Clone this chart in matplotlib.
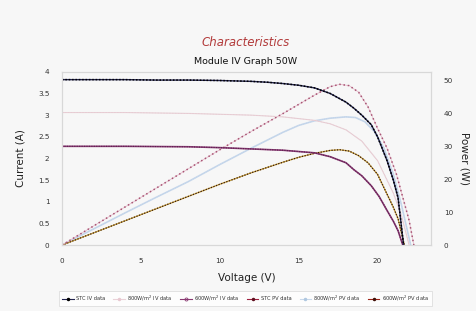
import matplotlib
matplotlib.use("Agg")
import matplotlib.pyplot as plt
from matplotlib.lines import Line2D

# ---- data ----
v_stc_iv = [0, 2, 4, 6, 8, 10, 12, 13, 14, 15, 16, 17, 18, 18.5, 19, 19.6, 20, 20.6, 21, 21.3, 21.65]
i_stc_iv = [3.82, 3.82, 3.82, 3.81, 3.81, 3.80, 3.78, 3.76, 3.73, 3.69, 3.63, 3.50, 3.30, 3.16, 3.00, 2.78, 2.50, 1.95, 1.50, 1.09, 0.0]

v_800_iv = [0, 4, 8, 12, 14, 16, 17, 18, 19, 20, 21, 21.5, 22.0]
i_800_iv = [3.06, 3.06, 3.04, 3.00, 2.96, 2.88, 2.80, 2.66, 2.40, 1.95, 1.20, 0.70, 0.0]

v_600_iv = [0, 4, 8, 10, 12, 14, 15, 16, 17, 18, 18.5, 19, 19.6, 20.1, 20.6, 21.0, 21.3, 21.6]
i_600_iv = [2.28, 2.28, 2.27, 2.25, 2.22, 2.19, 2.16, 2.13, 2.04, 1.90, 1.74, 1.60, 1.37, 1.12, 0.80, 0.55, 0.33, 0.0]

v_stc_pv = [0, 2, 4, 6, 8, 10, 12, 14, 15, 16, 17, 17.6, 18.2, 18.8, 19.4, 20, 20.6, 21.2, 21.6, 22.0, 22.3]
p_stc_pv = [0, 5.8, 11.6, 17.4, 23.2, 29.0, 34.6, 40.0, 42.8, 45.6, 48.2, 48.9, 48.5, 46.5, 42.0, 35.5, 29.5, 21.5, 14.5, 7.5, 0.0]

v_800_pv = [0, 2, 4, 6, 8, 10, 12, 14, 15, 16, 17, 18, 18.6, 19.2, 19.8, 20.4, 21.0, 21.5, 22.1]
p_800_pv = [0, 4.9, 9.8, 14.6, 19.3, 24.5, 29.5, 34.3, 36.4, 37.8, 38.6, 39.0, 38.8, 37.5, 34.5, 29.5, 21.5, 12.5, 0.0]

v_600_pv = [0, 2, 4, 6, 8, 10, 12, 14, 15, 16, 17, 17.6, 18.2, 18.8, 19.4, 20.0, 20.6, 21.0, 21.3, 21.7]
p_600_pv = [0, 3.7, 7.4, 11.1, 14.8, 18.5, 22.0, 25.2, 26.7, 27.9, 28.8, 29.0, 28.6, 27.2, 25.0, 21.5, 15.5, 11.5, 8.0, 0.0]

labels = ["STC IV data", "800W/m$^2$ IV data", "600W/m$^2$ IV data",
          "STC PV data", "800W/m$^2$ PV data", "600W/m$^2$ PV data"]

fig = plt.figure(figsize=(4.77, 3.11), dpi=100, facecolor="#f7f7f7")
ax = fig.add_axes([0.130, 0.212, 0.774, 0.557])
ax2 = ax.twinx()
ax.set_zorder(ax2.get_zorder() + 1)
ax.patch.set_visible(False)
ax2.patch.set_facecolor("white")

# colours
c_stc_iv = "#23244f"
c_800_iv = "#ead2d8"
c_600_iv = "#8a3a72"
c_stc_pv = "#c46a88"
c_800_pv = "#c9d9ec"
c_600_pv = "#6e2a18"

def draw(a, x, y, col, dotcol, lw=1.0, dls=(0, (1, 1.2)), dlw=1.0):
    a.plot(x, y, color=col, lw=lw, solid_capstyle="round")
    a.plot(x, y, color=dotcol, lw=dlw, linestyle=dls)

draw(ax2, v_800_pv, p_800_pv, c_800_pv, "#bdd0e8", lw=1.2, dlw=0.6)
draw(ax2, v_600_pv, p_600_pv, "#c9a23a", "#3a1a10", lw=0.9, dlw=0.9)
draw(ax2, v_stc_pv, p_stc_pv, "#e6bccb", "#a85474", lw=0.6, dls=(0, (1, 1.8)), dlw=1.1)

draw(ax, v_800_iv, i_800_iv, c_800_iv, "#e2c4cc", lw=0.8, dlw=0.5)
draw(ax, v_600_iv, i_600_iv, c_600_iv, "#5a1f50", lw=1.2, dlw=0.8)
draw(ax, v_stc_iv, i_stc_iv, c_stc_iv, "#000000", lw=1.0, dlw=1.1)

ax.set_xlim(0, 23.4)
ax.set_ylim(0, 4)
ax2.set_ylim(0, 52.7)
ax.set_xticks([0, 5, 10, 15, 20])
ax.set_yticks([0, 0.5, 1, 1.5, 2, 2.5, 3, 3.5, 4])
ax.set_yticklabels(["0", "0.5", "1", "1.5", "2", "2.5", "3", "3.5", "4"])
ax2.set_yticks([0, 10, 20, 30, 40, 50])

for a in (ax, ax2):
    a.tick_params(length=0, labelsize=5.2, colors="#333333", pad=9)
    for s in a.spines.values():
        s.set_color("#d8d8d8")
        s.set_linewidth(0.8)
ax.tick_params(axis="y", pad=9)
ax.tick_params(axis="x", pad=9)

ax.set_ylabel("Current (A)", fontsize=7.5, color="#222222", labelpad=9)
ax2.set_ylabel("Power (W)", fontsize=7.5, color="#222222", rotation=270, labelpad=12)
ax.set_xlabel("Voltage (V)", fontsize=7.5, color="#222222", labelpad=7)

fig.text(0.515, 1 - 43 / 311, "Characteristics", ha="center", va="center",
         fontsize=8.5, style="italic", color="#b23a3a")
fig.text(0.515, 1 - 62 / 311, "Module IV Graph 50W", ha="center", va="center",
         fontsize=6.8, color="#111111")

handles = [
    Line2D([], [], color=c_stc_iv, lw=0.8, marker="o", ms=1.5, mfc="black", mec="black"),
    Line2D([], [], color=c_800_iv, lw=0.8, marker="o", ms=1.5, mfc="#e8c8d0", mec="#e8c8d0"),
    Line2D([], [], color=c_600_iv, lw=0.8, marker="o", ms=2.2, mfc="none", mec=c_600_iv, mew=0.6),
    Line2D([], [], color="#a02040", lw=0.8, marker="o", ms=1.5, mfc="#601020", mec="#601020"),
    Line2D([], [], color=c_800_pv, lw=0.8, marker="o", ms=1.5, mfc="#b0c8e0", mec="#b0c8e0"),
    Line2D([], [], color="#a02418", lw=0.8, marker="o", ms=1.5, mfc="#401008", mec="#401008"),
]
leg = fig.legend(handles, labels, loc="center", bbox_to_anchor=(0.515, 1 - 298.5 / 311),
                 ncol=6, fontsize=3.7, frameon=True, handlelength=2.2,
                 columnspacing=1.5, handletextpad=0.5, borderpad=0.6)
leg.get_frame().set_edgecolor("#d0d0d0")
leg.get_frame().set_linewidth(0.5)
leg.get_frame().set_facecolor("white")
leg.get_frame().set_boxstyle("square", pad=0)
for t in leg.get_texts():
    t.set_color("#333333")

fig.savefig("out.png", dpi=100, facecolor=fig.get_facecolor())
